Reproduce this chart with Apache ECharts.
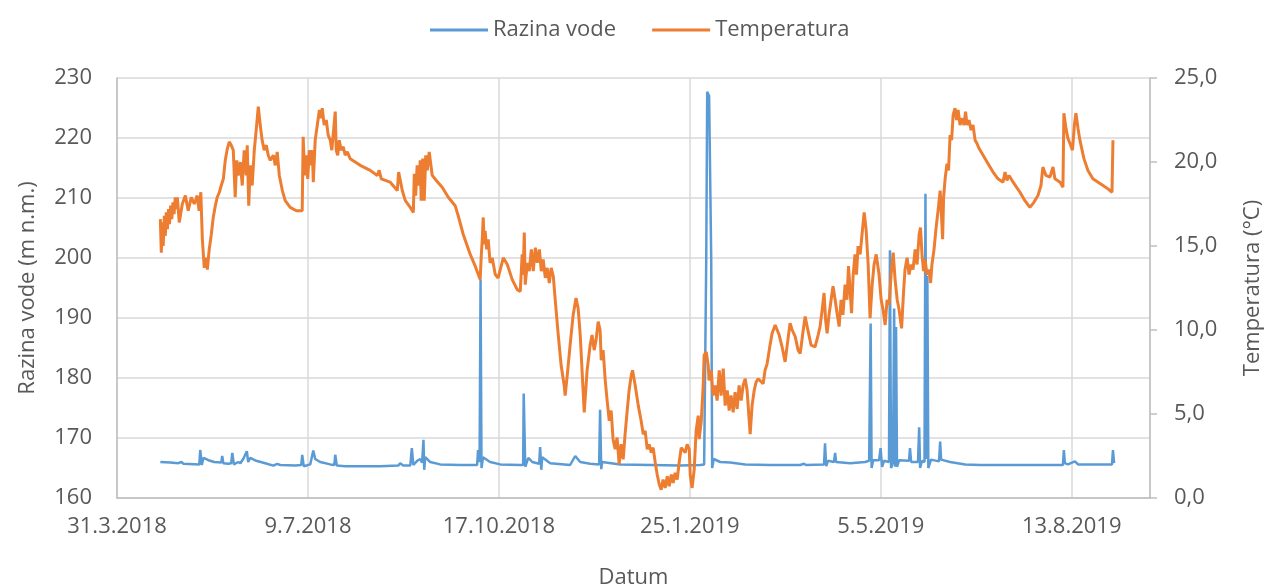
<!DOCTYPE html>
<html>
<head>
<meta charset="utf-8">
<title>Razina vode i temperatura</title>
<script src="https://cdn.jsdelivr.net/npm/echarts@6/dist/echarts.min.js"></script>
<style>
  html, body { margin: 0; padding: 0; background: #fff; }
  #chart { width: 1265px; height: 588px; }
</style>
</head>
<body>
<div id="chart"></div>
<script>
// dani od 31.3.2018
const startDate = Date.UTC(2018, 2, 31)
const axisDays = { min: 0, max: 541, step: 100 }

// [dan, m n.m.]
const razinaVode = [
  [22.7,166.0],[27.9,165.9],[32.1,165.8],[33.7,166.0],[34.8,165.7],[43.1,165.6],[43.6,168.0],[44.4,165.5],
  [45.3,166.7],[47.9,166.3],[50.9,166.0],[54.6,165.9],[55.1,167.0],[55.7,165.8],[58.3,165.7],[59.8,165.8],
  [60.4,167.5],[61.2,165.6],[63.5,166.0],[64.6,165.8],[66.1,166.5],[68.0,167.8],[68.7,166.0],[69.8,166.7],
  [72.9,166.2],[77.6,165.8],[81.9,165.4],[83.9,165.7],[85.5,165.5],[93.4,165.4],[96.5,165.5],[97.0,167.2],
  [97.8,165.3],[101.2,165.6],[102.8,167.9],[103.8,166.5],[106.4,166.0],[111.7,165.6],[113.8,165.5],[114.3,167.2],
  [115.1,165.4],[119.5,165.3],[135.3,165.3],[136.3,165.6],[137.8,165.3],[147.3,165.4],[148.3,165.8],[149.9,165.4],
  [153.6,165.4],[154.4,168.3],[155.2,165.5],[157.2,166.2],[158.8,166.5],[159.8,165.9],[160.5,169.7],[160.9,164.7],
  [161.4,166.8],[164.0,166.0],[169.3,165.6],[179.7,165.5],[188.6,165.5],[189.1,168.0],[189.9,166.0],[190.4,196.4],
  [190.9,165.0],[191.7,166.8],[195.4,166.0],[200.7,165.6],[211.2,165.5],[212.7,165.5],[213.0,177.4],[213.8,165.2],
  [215.4,166.7],[217.5,166.0],[221.1,165.7],[221.6,168.5],[222.2,164.7],[222.7,166.8],[226.9,165.8],[237.3,165.5],
  [240.0,167.0],[242.6,166.0],[247.8,165.7],[252.5,165.6],[253.0,174.7],[253.6,164.8],[254.1,166.0],[263.5,165.6],
  [279.3,165.5],[294.9,165.4],[305.4,165.5],[307.5,165.6],[308.6,200.0],[309.1,227.7],[310.1,227.0],[311.2,200.0],
  [311.7,165.0],[312.5,166.5],[315.9,166.0],[321.1,165.9],[329.0,165.6],[342.0,165.5],[357.8,165.5],[359.8,165.7],
  [360.9,165.5],[370.3,165.6],[370.8,169.1],[371.4,165.3],[372.4,166.2],[375.5,166.0],[376.1,167.5],[376.6,166.0],
  [384.0,165.8],[391.8,166.0],[393.9,166.2],[394.7,189.1],[395.2,165.0],[396.0,166.3],[399.1,166.3],[399.9,168.3],
  [400.7,165.2],[401.7,166.2],[404.3,166.0],[404.8,201.3],[405.4,165.0],[406.4,166.0],[407.0,191.6],[407.5,165.2],
  [408.0,188.5],[408.5,165.2],[409.6,166.3],[414.8,166.2],[415.3,168.3],[415.9,166.0],[419.5,166.0],[420.1,171.8],
  [420.6,165.0],[421.6,166.2],[422.9,166.0],[423.4,210.7],[423.9,166.5],[424.4,197.0],[424.9,165.0],[426.3,166.4],
  [430.5,166.1],[431.1,169.4],[431.6,166.4],[436.3,166.0],[444.2,165.6],[452.0,165.5],[495.4,165.5],[495.9,168.0],
  [496.4,165.8],[498.0,165.6],[501.7,166.1],[503.3,165.6],[521.1,165.6],[521.6,168.0],[522.2,165.8]
]

// [dan, °C]
const temperatura = [
  [22.7,16.6],[23.2,14.6],[23.7,16.4],[24.2,15.0],[24.8,16.8],[25.3,15.6],[25.8,17.0],[26.4,16.0],[27.0,17.2],
  [27.5,16.3],[28.1,17.4],[28.7,16.6],[29.3,17.6],[29.9,16.9],[30.5,17.9],[31.1,17.2],[31.6,17.9],[32.6,16.4],
  [34.2,17.5],[35.8,18.0],[37.3,17.1],[38.9,17.9],[40.5,17.5],[42.0,18.0],[43.0,17.1],[43.9,18.2],[44.7,15.4],
  [45.7,13.7],[46.5,14.3],[47.3,13.6],[48.3,14.8],[49.4,15.7],[50.4,16.7],[51.5,17.4],[52.5,17.9],[53.6,18.2],
  [54.6,18.6],[55.7,19.0],[56.7,20.1],[57.8,20.8],[58.8,21.2],[59.8,21.0],[60.9,20.7],[61.9,17.9],[62.7,20.1],
  [63.5,19.2],[64.6,20.0],[65.6,18.6],[66.6,20.7],[67.7,19.2],[68.2,21.0],[69.0,17.4],[69.8,19.8],[70.8,18.6],
  [71.9,20.7],[72.9,21.9],[74.0,23.3],[75.0,22.2],[76.0,21.3],[77.1,20.7],[78.2,21.0],[79.2,20.4],[80.3,20.1],
  [81.9,20.4],[82.9,19.8],[83.9,20.6],[85.0,19.2],[86.6,18.3],[88.1,17.7],[90.7,17.3],[93.9,17.1],[97.0,17.1],
  [97.5,21.5],[98.3,19.2],[99.1,20.4],[99.9,19.0],[100.7,20.7],[101.5,19.8],[102.3,20.7],[102.8,18.8],[103.8,21.3],
  [104.9,22.2],[106.0,23.1],[106.7,22.6],[107.5,23.2],[108.5,22.2],[109.6,22.5],[110.6,21.6],[111.7,21.3],
  [112.5,20.7],[113.2,21.6],[114.3,23.0],[114.8,20.7],[115.6,20.4],[116.4,21.3],[117.4,20.7],[118.5,20.9],
  [119.5,20.4],[120.6,20.6],[122.1,20.2],[127.4,19.8],[132.6,19.5],[136.3,19.2],[137.3,19.5],[138.4,19.0],
  [143.1,18.8],[146.8,18.3],[147.5,19.4],[148.3,19.4],[149.4,18.3],[151.0,17.7],[153.6,17.3],[155.2,17.0],
  [155.7,19.3],[156.4,18.0],[157.2,19.8],[158.0,18.6],[158.8,20.1],[159.3,17.7],[160.1,20.2],[160.9,17.7],
  [161.7,20.4],[162.5,19.5],[163.5,20.6],[164.0,20.7],[165.1,19.2],[167.2,18.9],[170.3,18.5],[173.5,17.9],
  [177.1,17.4],[178.7,16.8],[181.3,15.7],[185.0,14.5],[187.6,13.8],[190.2,13.0],[190.8,14.5],[191.3,15.4],
  [191.8,16.7],[192.3,15.1],[192.8,15.9],[193.6,14.8],[194.4,15.4],[195.4,14.0],[196.5,14.3],[198.1,13.3],
  [199.6,13.1],[202.3,14.3],[204.4,13.9],[207.0,13.0],[209.6,12.4],[211.2,12.3],[212.2,14.5],[212.7,13.3],
  [213.3,15.8],[213.8,12.7],[214.9,14.0],[215.9,13.5],[217.0,14.8],[218.0,13.5],[219.1,14.9],[220.1,14.0],
  [221.2,14.8],[222.2,13.5],[223.2,14.2],[224.3,13.1],[225.3,13.7],[226.4,12.8],[227.4,13.7],[228.5,13.2],
  [229.5,11.8],[231.1,9.7],[232.6,7.9],[234.2,6.7],[234.7,6.1],[235.8,7.3],[237.3,9.1],[238.9,10.9],
  [240.4,11.9],[241.5,11.3],[242.6,9.7],[244.7,5.1],[246.2,7.6],[247.8,9.1],[248.8,9.7],[249.9,8.8],
  [250.9,9.4],[252.0,10.5],[253.0,10.0],[253.6,8.2],[254.6,8.8],[255.7,7.0],[256.7,5.8],[257.8,4.6],
  [258.8,5.2],[259.8,3.5],[260.9,2.9],[261.9,3.6],[263.0,2.0],[264.0,3.2],[265.1,2.3],[266.1,3.8],
  [267.2,5.2],[268.2,6.4],[269.3,7.3],[270.0,7.6],[271.4,6.7],[273.0,5.5],[274.5,4.6],[275.6,3.8],
  [276.6,4.0],[277.7,2.9],[278.7,3.2],[279.8,2.7],[280.8,3.0],[281.9,2.1],[282.9,1.4],[284.0,0.8],
  [285.0,0.5],[286.0,1.1],[287.1,0.6],[288.2,1.3],[289.2,0.7],[290.3,1.4],[291.3,0.9],[292.3,1.5],
  [293.4,1.1],[294.4,2.1],[295.5,3.0],[296.5,3.1],[297.6,2.7],[298.6,3.2],[299.7,2.9],[300.2,1.4],
  [301.2,0.6],[302.3,1.7],[303.3,4.0],[304.4,4.9],[304.9,3.5],[306.0,4.6],[307.0,6.7],[307.5,8.5],
  [308.6,8.7],[309.6,7.9],[310.1,7.0],[311.2,7.6],[312.2,6.1],[313.3,6.7],[314.3,5.8],[315.4,7.6],
  [316.4,6.1],[317.5,7.7],[318.5,5.5],[319.6,6.4],[320.6,5.2],[321.6,6.1],[322.7,5.1],[323.7,6.3],
  [324.8,5.3],[325.8,6.7],[326.9,5.8],[327.9,6.7],[329.0,7.1],[330.0,6.4],[331.1,4.6],[331.6,3.8],
  [332.6,5.5],[333.7,6.4],[334.7,6.9],[335.8,7.1],[336.8,7.2],[338.4,6.8],[339.4,7.6],[340.5,8.0],
  [342.0,9.1],[343.1,9.8],[344.7,10.3],[345.7,10.4],[346.8,9.7],[348.3,9.0],[349.9,8.1],[351.0,9.1],
  [352.5,10.4],[353.6,10.0],[355.2,9.6],[356.7,8.8],[357.8,8.6],[359.4,10.0],[360.4,10.8],[362.0,9.9],
  [363.5,9.1],[365.6,9.0],[367.2,9.7],[368.2,10.2],[369.3,11.2],[370.3,12.2],[371.1,10.6],[371.9,9.8],
  [372.9,10.9],[374.0,11.8],[375.0,12.6],[376.1,11.8],[377.1,11.0],[378.2,10.2],[379.2,11.8],[380.2,10.9],
  [381.3,12.7],[382.3,11.8],[383.1,13.8],[383.9,12.4],[384.7,11.0],[385.5,13.2],[386.5,14.5],[387.3,13.3],
  [388.1,15.0],[389.2,14.5],[390.2,15.7],[391.3,17.0],[392.3,16.0],[393.4,13.9],[394.4,10.7],[395.5,12.7],
  [396.5,13.9],[397.6,14.5],[398.3,14.6],[399.1,13.3],[400.2,11.8],[401.2,11.2],[402.3,10.3],[403.3,11.8],
  [404.4,11.5],[405.4,13.3],[406.5,14.6],[407.5,13.0],[408.6,11.8],[409.6,11.2],[410.9,10.1],[412.0,12.4],
  [412.7,13.6],[413.8,14.3],[414.8,13.3],[415.9,13.9],[416.9,13.6],[418.0,14.8],[419.0,13.9],[420.1,15.7],
  [420.8,16.1],[421.6,14.5],[422.4,13.5],[423.2,14.2],[424.2,13.3],[425.3,13.6],[426.1,12.8],[426.8,13.9],
  [427.9,14.8],[428.9,16.0],[430.0,17.1],[431.1,18.3],[431.8,16.8],[432.4,15.4],[432.9,17.9],[433.7,19.0],
  [434.7,19.9],[435.5,19.5],[436.3,21.6],[437.1,21.3],[437.9,22.8],[438.9,23.2],[439.7,22.5],[440.5,23.1],
  [441.5,22.2],[442.6,22.6],[443.6,22.2],[444.4,23.0],[445.2,22.2],[446.2,22.5],[447.3,21.9],[448.3,22.2],
  [449.4,21.3],[450.4,21.1],[451.5,20.8],[453.6,20.4],[456.2,19.9],[458.8,19.4],[461.4,19.0],[464.0,18.8],
  [465.1,19.4],[466.1,18.9],[467.2,19.2],[469.3,18.8],[472.9,18.2],[475.5,17.7],[478.1,17.3],[480.2,17.6],
  [482.3,18.0],[483.9,18.6],[484.9,19.7],[486.5,19.2],[488.6,19.1],[490.2,19.7],[491.2,19.0],[493.9,18.8],
  [495.4,18.5],[495.9,22.9],[497.0,22.0],[498.0,21.4],[499.1,21.1],[500.4,20.7],[501.4,22.2],[502.2,22.9],
  [503.3,22.0],[504.3,21.3],[506.4,20.2],[508.5,19.5],[511.1,19.0],[513.8,18.8],[516.4,18.6],[519.0,18.4],
  [521.1,18.2],[521.6,21.3]
]

const textColor = '#595959'
const fontFamily = 'Open Sans'

function dayLabel(v) {
  const d = new Date(startDate + v * 86400000)
  return d.getUTCDate() + '.' + (d.getUTCMonth() + 1) + '.' + d.getUTCFullYear()
}

const myChart = echarts.init(document.getElementById('chart'))

myChart.setOption({
  animation: false,
  textStyle: { fontFamily: fontFamily, color: textColor },
  grid: {
    left: 117,
    right: 115,
    top: 78,
    bottom: 90,
    containLabel: false,
    outerBoundsMode: 'none'
  },
  legend: {
    data: ['Razina vode', 'Temperatura'],
    left: 425,
    top: 14,
    icon: 'rect',
    itemWidth: 58,
    itemHeight: 3,
    itemGap: 36,
    textStyle: { fontSize: 22, color: textColor, fontFamily: fontFamily }
  },
  xAxis: {
    type: 'value',
    min: axisDays.min,
    max: axisDays.max,
    interval: axisDays.step,
    name: 'Datum',
    nameLocation: 'middle',
    nameGap: 69,
    nameTextStyle: { fontSize: 22, color: textColor },
    axisLine: { show: true, lineStyle: { color: '#bfbfbf', width: 1.5 } },
    axisTick: { show: false },
    axisLabel: {
      fontSize: 22,
      color: textColor,
      margin: 18,
      showMaxLabel: false,
      formatter: dayLabel
    },
    splitLine: { show: true, lineStyle: { color: '#d9d9d9', width: 1.5 } }
  },
  yAxis: [
    {
      type: 'value',
      min: 160,
      max: 230,
      interval: 10,
      name: 'Razina vode (m n.m.)',
      nameLocation: 'middle',
      nameGap: 78,
      nameTextStyle: { fontSize: 22, color: textColor },
      axisLine: { show: true, lineStyle: { color: '#bfbfbf', width: 1.5 } },
      axisTick: { show: false },
      axisLabel: { fontSize: 22, color: textColor, margin: 25 },
      splitLine: { show: true, lineStyle: { color: '#d9d9d9', width: 1.5 } }
    },
    {
      type: 'value',
      min: 0,
      max: 25,
      interval: 5,
      position: 'right',
      name: 'Temperatura (°C)',
      nameLocation: 'middle',
      nameGap: 92,
      nameTextStyle: { fontSize: 22, color: textColor },
      axisLine: { show: true, lineStyle: { color: '#bfbfbf', width: 1.5 } },
      axisTick: { show: true, length: 7, lineStyle: { color: '#bfbfbf', width: 1.5 } },
      axisLabel: {
        fontSize: 22,
        color: textColor,
        margin: 24,
        formatter: v => v.toFixed(1).replace('.', ',')
      },
      splitLine: { show: false }
    }
  ],
  series: [
    {
      name: 'Razina vode',
      type: 'line',
      yAxisIndex: 0,
      symbol: 'none',
      color: '#5B9BD5',
      lineStyle: { color: '#5B9BD5', width: 2.5 },
      data: razinaVode
    },
    {
      name: 'Temperatura',
      type: 'line',
      yAxisIndex: 1,
      symbol: 'none',
      color: '#ED7D31',
      lineStyle: { color: '#ED7D31', width: 3 },
      data: temperatura
    }
  ]
})
</script>
</body>
</html>
